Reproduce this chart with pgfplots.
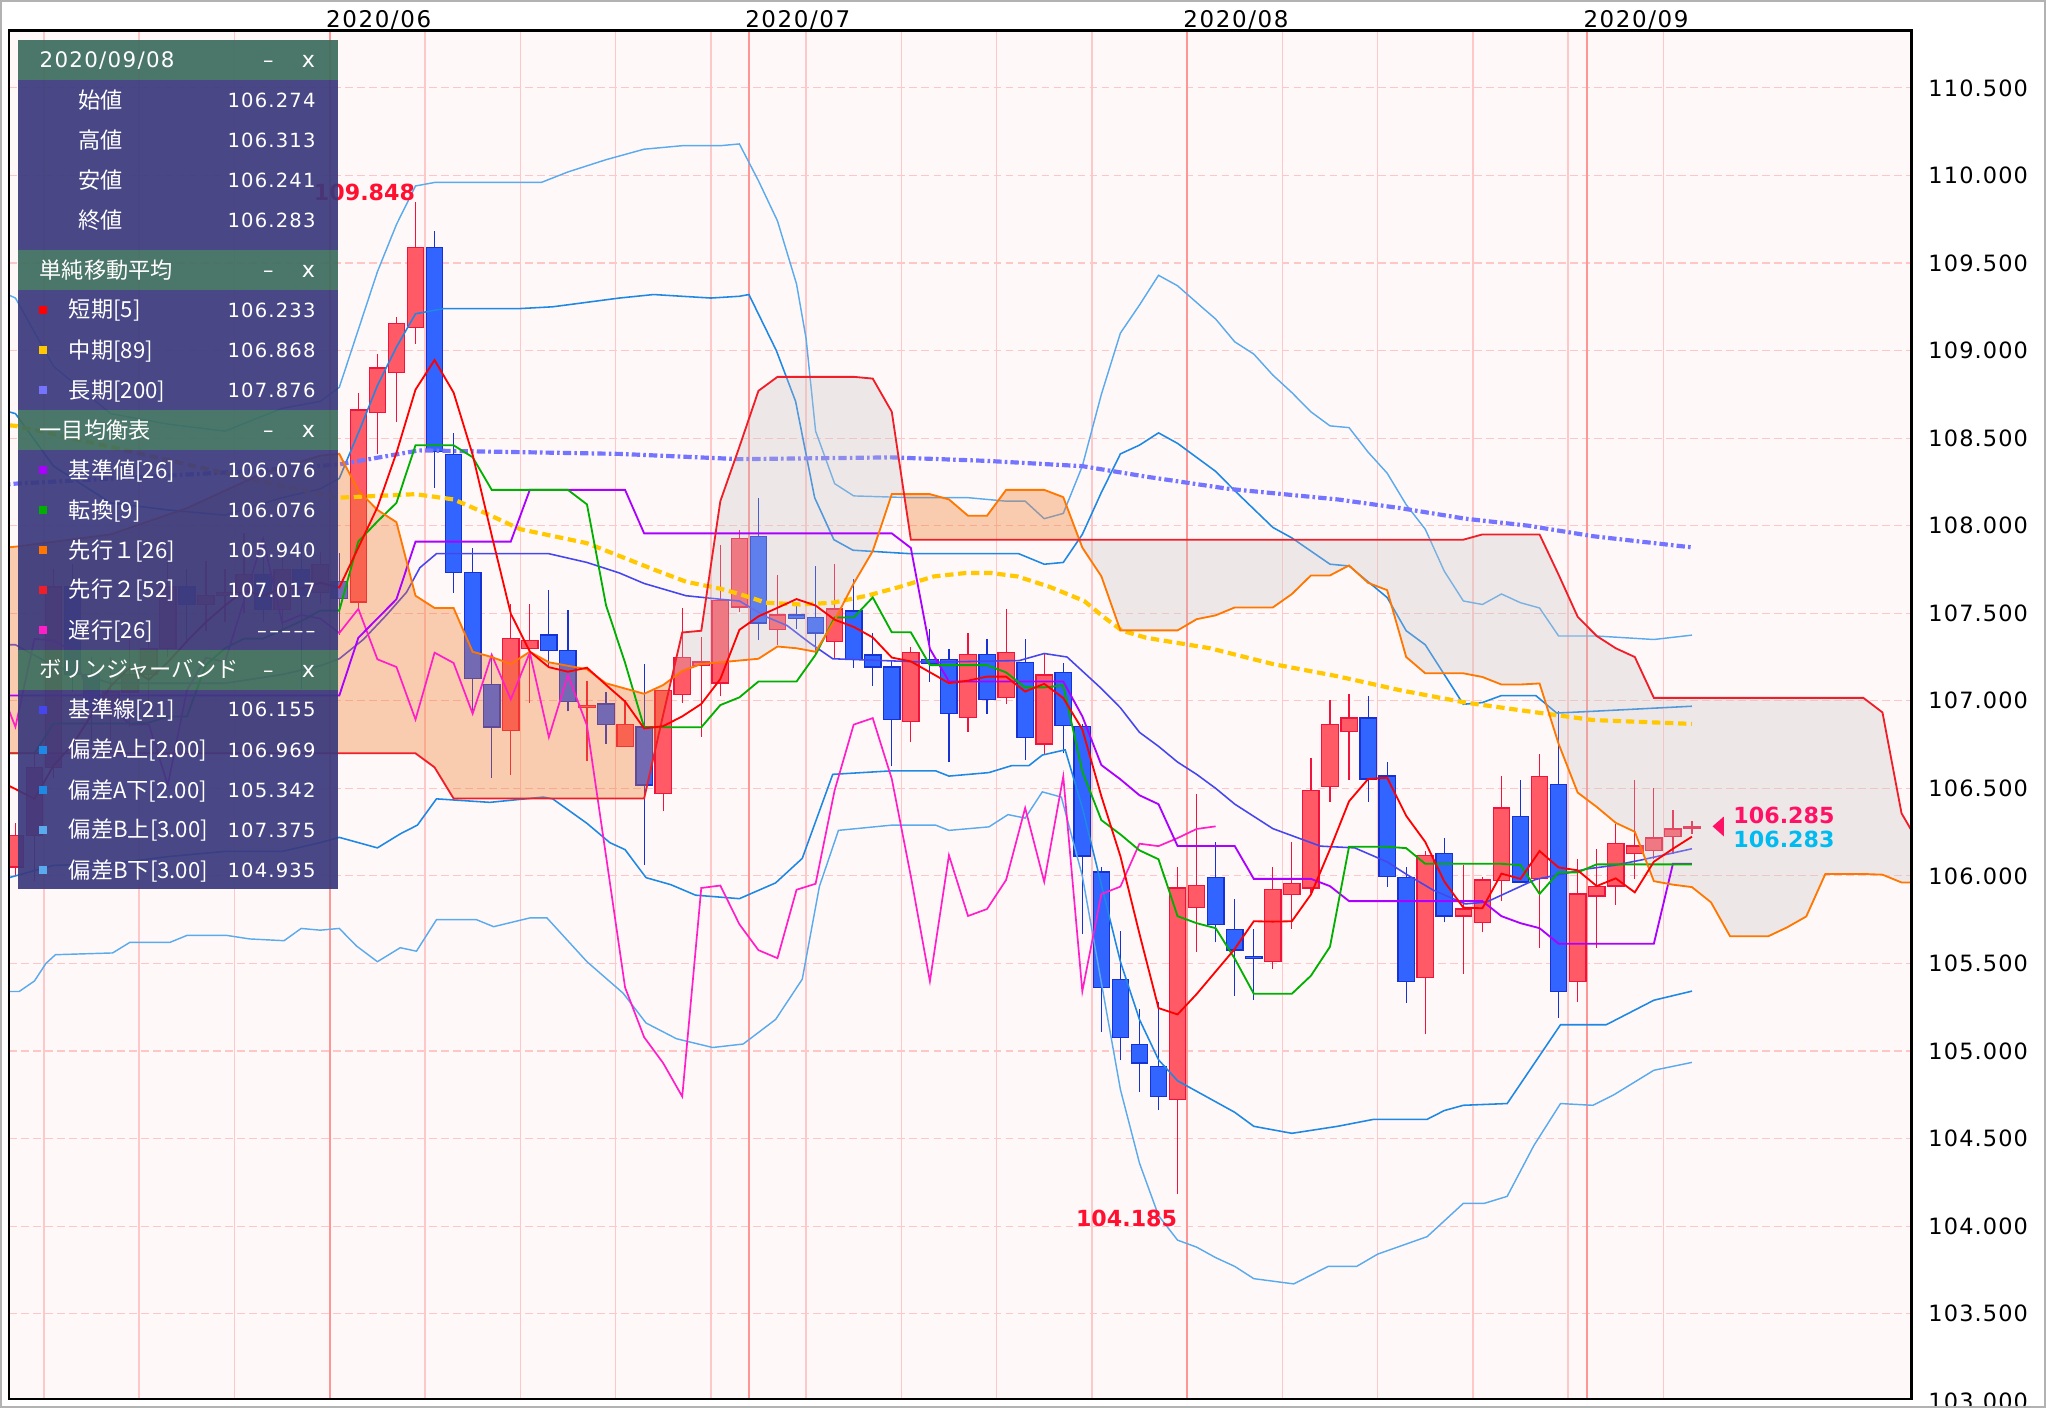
\documentclass[border=0pt]{standalone}
\usepackage{fontspec}
\usepackage{pgfplots}
\pgfplotsset{compat=1.18}
\usepackage{pgfplotstable}
\setmainfont{DejaVu Sans}
\newfontfamily\dv{DejaVu Sans}
\newfontfamily\cjk{Noto Sans CJK JP}
\newfontfamily\axf[LetterSpace=5]{DejaVu Sans}
\newfontfamily\axt[LetterSpace=7]{DejaVu Sans}
\newfontfamily\dtf[LetterSpace=6]{DejaVu Sans}

\definecolor{bgpink}{HTML}{FFF8F8}
\definecolor{gridpink}{HTML}{FFC6C6}
\definecolor{weekpink}{HTML}{FFC8C8}
\definecolor{monthpink}{HTML}{FF9696}
\definecolor{upfill}{HTML}{FF5A66}
\definecolor{updraw}{HTML}{F0143C}
\definecolor{dnfill}{HTML}{3264FF}
\definecolor{dndraw}{HTML}{1632D2}
\definecolor{csma5}{HTML}{FF0000}
\definecolor{csma89}{HTML}{FFC800}
\definecolor{csma200}{HTML}{7474FF}
\definecolor{ckijun}{HTML}{AA00FF}
\definecolor{ctenkan}{HTML}{00B000}
\definecolor{csenA}{HTML}{FF7700}
\definecolor{csenB}{HTML}{F01E28}
\definecolor{cchikou}{HTML}{FF1EC8}
\definecolor{bbmid}{HTML}{4646EE}
\definecolor{bbtwo}{HTML}{1E88E5}
\definecolor{bbthree}{HTML}{5AAAEE}
\definecolor{cloudor}{HTML}{F07828}
\definecolor{cloudgr}{HTML}{C8C3C3}
\definecolor{panelbody}{HTML}{3A397D}
\definecolor{panelhead}{HTML}{3C6D5E}
\definecolor{hired}{HTML}{FF1030}
\definecolor{hipink}{HTML}{FF1166}
\definecolor{hicyan}{HTML}{00BBF0}

\pgfplotsset{
  uwick/.style={draw=updraw, line width=0.45pt, mark=none},
  ubody/.style={draw=updraw, fill=upfill, line width=0.5pt, mark=none},
  dwick/.style={draw=dndraw, line width=0.45pt, mark=none},
  dbody/.style={draw=dndraw, fill=dnfill, line width=0.5pt, mark=none},
}
\newcommand\candle[6]{%
  \pgfmathsetmacro\cxl{#1-0.43}\pgfmathsetmacro\cxr{#1+0.43}%
  \addplot[#6wick] coordinates {(#1,#4) (#1,#3)};
  \addplot[#6body] coordinates {(\cxl,#2) (\cxr,#2) (\cxr,#5) (\cxl,#5)} -- cycle;
}

% ---------------- data ----------------
\pgfplotstableread{
k v
-18 106.55
-17 106.496
-16 106.44
-15 106.63
-14 106.75
-13 106.92
-12 107.084
-11 107.19
-10 107.12
-9 107.22
-8 107.34
-7 107.45
-6 107.544
-5 107.628
-4 107.602
-3 107.642
-2 107.642
-1 107.674
0 107.647
1 107.875
2 108.105
3 108.416
4 108.777
5 108.946
6 108.760
7 108.405
8 107.945
9 107.498
10 107.281
11 107.192
12 107.166
13 107.189
14 107.091
15 106.996
16 106.842
17 106.855
18 106.911
19 106.982
20 107.124
21 107.405
22 107.482
23 107.531
24 107.581
25 107.544
26 107.463
27 107.422
28 107.362
29 107.247
30 107.225
31 107.163
32 107.101
33 107.115
34 107.138
35 107.138
36 107.053
37 107.097
38 107.016
39 106.837
40 106.455
41 106.112
42 105.669
43 105.245
44 105.209
45 105.325
46 105.454
47 105.583
48 105.741
49 105.739
50 105.741
51 105.894
52 106.152
53 106.426
54 106.553
55 106.561
56 106.343
57 106.194
58 105.968
59 105.819
60 105.815
61 106.013
62 105.983
63 106.142
64 106.048
65 106.032
66 105.942
67 105.986
68 105.906
69 106.081
70 106.155
71 106.224
}\tsmafive

\pgfplotstableread{
k v
-18 108.58
-17 108.57
-12 108.45
-8 108.35
-4 108.25
0 108.16
4 108.18
6 108.15
7.7 108.07
9.5 107.98
13 107.90
16.5 107.75
18.2 107.68
20 107.64
21 107.61
22.4 107.56
24.2 107.55
25.9 107.56
27.7 107.60
29.4 107.65
31.2 107.71
32.9 107.73
34.2 107.73
35.6 107.71
37.3 107.65
39.1 107.57
40.1 107.48
41.1 107.40
42.35 107.36
45.7 107.30
49 107.21
52.4 107.14
55.7 107.06
59.1 106.99
62.4 106.94
65.8 106.89
71 106.868
}\tsmaeightynine

\pgfplotstableread{
k v
-18 108.23
-17 108.24
-10 108.28
-5 108.31
0 108.35
4.2 108.43
14.7 108.41
21 108.38
29 108.39
34 108.37
39 108.34
42.35 108.28
46.7 108.21
52.4 108.15
55.7 108.10
59.1 108.04
62.4 108.00
65.8 107.94
71 107.876
}\tsmatwohundred

\pgfplotstableread{
k v
-18 106.7
-17 106.7
-16 106.7
-15 106.87
-11 106.87
-10 106.875
-9 106.91
-8 106.91
-7 107.205
-6 107.30
-5 107.355
-4 107.355
-3 107.405
-2 107.455
-1 107.515
0 107.515
1 107.91
2 108.024
3 108.13
4 108.459
5 108.459
6 108.459
7 108.391
8 108.2045
12 108.2045
13 108.1215
14 107.5455
15 107.217
16 106.8485
19 106.8485
20 106.9755
21 107.0195
22 107.11
24 107.11
25 107.263
26 107.476
27 107.476
28 107.5905
29 107.391
30 107.391
31 107.2035
34 107.2035
35 107.162
36 107.0765
37 107.0765
38 107.088
39 106.597
40 106.3185
41 106.237
42 106.146
43 106.095
44 105.77
45 105.73
46 105.7015
47 105.5275
48 105.327
50 105.327
51 105.43
52 105.5955
53 106.1665
55 106.1665
56 106.1585
57 106.069
61 106.069
62 106.0615
63 105.897
64 106.02
65 106.02
66 106.066
71 106.066
}\ttenkan

\pgfplotstableread{
k v
-18 107.03
0 107.03
1 107.36
2 107.47
3 107.58
4 107.909
9 107.909
10 108.2045
15 108.2045
16 107.956
29 107.956
30 107.873
31 107.297
32 107.11
38 107.11
39 106.9115
40 106.633
41 106.5515
42 106.4605
43 106.4095
44 106.1705
47 106.1705
48 105.983
51 105.983
52 105.9415
53 105.856
60 105.856
61 105.77
62 105.73
63 105.7015
64 105.613
69 105.613
70 106.069
71 106.069
}\tkijun

\pgfplotstableread{
k v
-18 107.127
-17 106.851
-16 107.354
-15 107.343
-14 107.287
-13 106.994
-12 106.975
-11 106.865
-10 106.865
-9 106.519
-8 107.059
-7 107.246
-6 107.222
-5 107.574
-4 107.926
-3 107.445
-2 107.490
-1 107.470
0 107.387
1 107.525
2 107.237
3 107.193
4 106.893
5 107.275
6 107.216
7 106.926
8 107.263
9 107.008
10 107.275
11 106.792
12 107.147
13 106.859
14 106.114
15 105.363
16 105.079
17 104.931
18 104.740
19 105.931
20 105.945
21 105.724
22 105.576
23 105.530
24 105.921
25 105.955
26 106.489
27 106.864
28 106.901
29 106.554
30 105.998
31 105.398
32 106.118
33 105.771
34 105.811
35 105.977
36 106.388
37 105.966
38 106.568
39 105.341
40 105.896
41 105.939
42 106.184
43 106.170
44 106.216
45 106.268
46 106.283
}\tchikou

\pgfplotstableread{
k v
-18 107.87
-17 107.88
-12 107.95
-8 108.10
-4 108.30
-1 108.40
0 108.41
1 108.20
2 108.09
3 108.02
4 107.60
5 107.53
6 107.53
7 107.28
8 107.25
9 107.21
10 107.28
11 107.22
12 107.20
13 107.18
14 107.10
15 107.07
16 107.04
17 107.09
18 107.17
19 107.21
20 107.22
21 107.23
22 107.24
23 107.31
24 107.30
25 107.28
26 107.46
27 107.67
28 107.855
29 108.18
30 108.18
31 108.18
32 108.15
33 108.057
34 108.057
35 108.2045
36 108.2045
37 108.2045
38 108.163
39 107.875
40 107.711
41 107.402
42 107.402
43 107.402
44 107.402
45 107.466
46 107.488
47 107.533
48 107.533
49 107.533
50 107.6095
51 107.716
52 107.716
53 107.773
54 107.6735
55 107.632
56 107.250
57 107.157
58 107.157
59 107.157
60 107.136
61 107.093
62 107.093
63 107.099
64 106.754
65 106.476
66 106.394
67 106.303
68 106.252
69 105.970
70 105.950
71 105.936
72 105.849
73 105.655
74 105.655
75 105.655
76 105.7065
77 105.7685
78 106.011
79 106.011
80 106.011
81 106.007
82 105.9625
83 105.9625
}\tsa

\pgfplotstableread{
k v
-18 106.70
4 106.70
5 106.62
6 106.442
16 106.442
17 106.92
18 107.39
19 107.40
20 108.14
21 108.45
22 108.77
23 108.85
27 108.85
28 108.84
29 108.65
30 107.92
59 107.92
60 107.95
63 107.95
64 107.72
65 107.48
66 107.37
67 107.30
68 107.25
69 107.0165
80 107.0165
81 106.9335
82 106.3575
83 106.1705
}\tsb

\pgfplotstableread{
k v
-18 107.32
-17 107.32
-15 107.20
-12 107.10
-9 107.10
-6 107.10
-3 107.15
-1 107.20
0 107.24
1.26 107.35
2.48 107.49
3.53 107.62
4.23 107.76
5.1 107.84
11 107.84
13 107.79
14.7 107.73
16 107.67
18.2 107.60
20 107.58
21 107.57
22.4 107.48
23.5 107.43
24.7 107.33
25.9 107.24
31 107.22
35.7 107.23
37 107.27
38.2 107.25
39 107.17
40 107.07
41 106.96
42 106.82
43 106.74
44 106.65
45 106.58
46 106.50
47 106.41
48 106.34
49 106.27
51.5 106.17
53.3 106.16
55 106.08
56 106.01
57.4 105.92
59.1 105.84
60.2 105.85
61.4 105.91
62.8 105.98
65.5 106.04
66.9 106.06
68.3 106.09
71 106.155
}\tmid

\pgfplotstableread{
k v
-18 108.67
-17 108.64
-15 108.34
-12 108.13
-9 108.09
-6 108.06
-3 108.16
-1 108.21
0 108.27
1 108.53
2 108.80
3 109.02
4 109.21
5.5 109.24
9.5 109.24
11.2 109.25
14.7 109.30
16.5 109.32
19.5 109.30
21 109.31
21.5 109.32
22.94 109.00
23.95 108.71
24.95 108.16
25.96 107.92
26.96 107.86
29.97 107.84
35.66 107.84
37 107.78
38 107.79
39 107.95
40 108.19
41 108.41
42 108.46
43 108.53
44 108.47
46 108.31
47 108.20
49 107.99
50 107.93
52 107.78
53 107.77
55 107.59
56 107.40
57 107.32
59 106.98
60 106.99
61 107.03
62.8 107.03
63.9 106.93
65.8 106.94
71 106.969
}\tptwo

\pgfplotstableread{
k v
-18 109.35
-17 109.30
-15 108.91
-12 108.64
-9 108.58
-6 108.54
-3 108.67
-1 108.71
0 108.79
1 109.12
2 109.45
3 109.72
4 109.94
5 109.96
8 109.96
10.6 109.96
12 110.02
14 110.09
16 110.15
18 110.17
20 110.17
21 110.18
22 109.97
23 109.74
24 109.38
24.5 109.07
25 108.54
26 108.24
27 108.17
30 108.16
33 108.16
35 108.14
36 108.14
37 108.04
38 108.07
39 108.34
40 108.75
41 109.10
42 109.26
43 109.43
44 109.37
45.36 109.24
46 109.18
47 109.05
48 108.98
49 108.86
50 108.76
51 108.65
52 108.57
53 108.56
54 108.42
55 108.30
56 108.12
57 107.98
58 107.74
59 107.57
60 107.55
61 107.61
62 107.56
63 107.53
64 107.37
66 107.37
69 107.35
71 107.375
}\tpthree

\pgfplotstableread{
k v
-18 105.97
-17 106.00
-15 106.06
-12 106.07
-9 106.11
-6 106.14
-3 106.14
-1 106.19
0 106.22
2 106.16
3.2 106.24
4.1 106.29
5.1 106.44
7.9 106.42
10.7 106.45
11.2 106.44
13 106.30
14.2 106.19
15 106.15
16.1 105.99
17.4 105.95
18.7 105.89
21 105.87
22.9 105.96
24.3 106.10
25.9 106.58
29 106.60
31.3 106.60
32 106.57
34.1 106.59
35.3 106.63
36.2 106.63
36.9 106.69
38.1 106.72
39 106.39
40 105.95
41 105.51
42 105.18
43 104.95
44 104.83
45 104.77
46 104.71
47 104.65
48 104.57
50 104.53
52.4 104.57
54.3 104.61
57.1 104.61
58 104.66
59 104.69
61.3 104.70
64.1 105.15
66.5 105.15
69 105.29
71 105.342
}\tmtwo

\pgfplotstableread{
k v
-18 105.30
-17.3 105.34
-16.8 105.34
-16 105.40
-15.4 105.50
-14.9 105.55
-11.9 105.56
-11 105.62
-8.9 105.62
-8 105.66
-5.9 105.66
-4.7 105.64
-2.9 105.63
-2 105.70
-1 105.69
0 105.70
0.9 105.60
2 105.51
3.2 105.59
4.05 105.57
5.1 105.75
7.2 105.75
8.1 105.71
10 105.76
10.9 105.76
13 105.51
14.9 105.33
16.1 105.16
17.7 105.07
19.6 105.02
21.2 105.04
22.9 105.18
24.3 105.41
25.2 105.94
26.2 106.26
29 106.29
31.3 106.29
32 106.26
34.1 106.28
35.1 106.35
36 106.33
36.9 106.48
37.9 106.45
39 106.00
40 105.39
41 104.78
42 104.36
43 104.06
44 103.92
45 103.88
46 103.82
47 103.77
48 103.70
50.1 103.67
51.9 103.77
53.4 103.77
54.5 103.84
57.1 103.94
59 104.13
60.1 104.13
61.3 104.17
62.7 104.46
64.1 104.70
65.8 104.69
66.9 104.75
69 104.89
71 104.935
}\tmthree

% panel helpers
\newcommand\prow[3]{%
  \node[anchor=base west,inner sep=0,text=white,font=\cjk\fontsize{8.5}{10}\selectfont] at (30pt,#1pt-3.1pt) {#2};
  \node[anchor=base east,inner sep=0,text=white,font=\dtf\fontsize{7.5}{9}\selectfont] at (121.1pt,#1pt-2.75pt) {#3};}
\newcommand\irow[4]{%
  \fill[#2] (15pt,#1pt-1.6pt) rectangle (18.2pt,#1pt+1.6pt);
  \node[anchor=base west,inner sep=0,text=white,font=\cjk\fontsize{8.5}{10}\selectfont] at (26.2pt,#1pt-3.1pt) {#3};
  \node[anchor=base east,inner sep=0,text=white,font=\dtf\fontsize{7.5}{9}\selectfont] at (121.1pt,#1pt-2.75pt) {#4};}
\newcommand\pheadctl[1]{%
  \node[anchor=base,inner sep=0,text=white,font=\dv\fontsize{8}{10}\selectfont] at (102.8pt,#1pt-3pt) {–};
  \node[anchor=base,inner sep=0,text=white,font=\dv\fontsize{8.5}{10}\selectfont] at (118.15pt,#1pt-3pt) {x};}
\newcommand\phead[2]{%
  \node[anchor=base west,inner sep=0,text=white,font=\cjk\fontsize{8.5}{10}\selectfont] at (15pt,#1pt-3.1pt) {#2};
  \pheadctl{#1}}

\begin{document}
\begin{tikzpicture}
\useasboundingbox (0,0) rectangle (784pt,539.5pt);
\fill[white] (0,0) rectangle (784pt,539.5pt);
\begin{axis}[
  at={(3.5pt,3.5pt)}, anchor=south west,
  scale only axis, width=729pt, height=524.25pt,
  xmin=-17.33, xmax=82.53, ymin=103.014, ymax=110.827,
  axis background/.style={fill=bgpink},
  axis line style={black, line width=0.9pt},
  major tick length=0pt,
  ytick={103.5,104.0,104.5,105.0,105.5,106.0,106.5,107.0,107.5,108.0,108.5,109.0,109.5,110.0,110.5},
  yticklabels={103.500,104.000,104.500,105.000,105.500,106.000,106.500,107.000,107.500,108.000,108.500,109.000,109.500,110.000,110.500},
  yticklabel pos=right,
  yticklabel style={anchor=west, inner sep=0pt, xshift=6.25pt, font=\axf\fontsize{8.6}{10}\selectfont, text=black},
  xtick={-0.5,21.5,44.5,65.5},
  xticklabels={2020/06,2020/07,2020/08,2020/09},
  xticklabel pos=upper,
  xticklabel style={anchor=base west, inner sep=0pt, xshift=-1.6pt, yshift=1.1pt, font=\axt\fontsize{8.8}{10}\selectfont, text=black},
  ymajorgrids=true,
  major grid style={draw=gridpink, line width=0.45pt, dash pattern=on 3pt off 1.6pt},
]
% vertical week / month lines
\addplot[draw=weekpink, line width=0.6pt, mark=none, unbounded coords=jump] coordinates {
(-15.5,102) (-15.5,112) (-15.5,nan) (-10.5,102) (-10.5,112) (-10.5,nan)
(-5.5,102) (-5.5,112) (-5.5,nan) (4.5,102) (4.5,112) (4.5,nan)
(9.5,102) (9.5,112) (9.5,nan) (14.5,102) (14.5,112) (14.5,nan)
(19.5,102) (19.5,112) (19.5,nan) (24.5,102) (24.5,112) (24.5,nan)
(29.5,102) (29.5,112) (29.5,nan) (34.5,102) (34.5,112) (34.5,nan)
(39.5,102) (39.5,112) (39.5,nan) (49.5,102) (49.5,112) (49.5,nan)
(54.5,102) (54.5,112) (54.5,nan) (59.5,102) (59.5,112) (59.5,nan)
(64.5,102) (64.5,112) (64.5,nan) (69.5,102) (69.5,112)};
\addplot[draw=monthpink, line width=0.6pt, mark=none, unbounded coords=jump] coordinates {
(-0.5,102) (-0.5,112) (-0.5,nan) (21.5,102) (21.5,112) (21.5,nan)
(44.5,102) (44.5,112) (44.5,nan) (65.5,102) (65.5,112)};

% candles: k, O, H, L, C
\candle{-18}{106.45}{106.60}{105.98}{106.10}{d}
\candle{-17}{106.05}{106.30}{106.00}{106.23}{u}
\candle{-16}{106.23}{106.70}{105.97}{106.62}{u}
\candle{-15}{106.62}{107.75}{106.56}{107.65}{u}
\candle{-14}{107.65}{107.78}{107.05}{107.15}{d}
\candle{-13}{107.15}{107.25}{106.75}{106.95}{d}
\candle{-12}{106.95}{107.25}{106.75}{107.05}{u}
\candle{-11}{107.05}{107.40}{106.85}{107.15}{u}
\candle{-10}{107.15}{107.45}{106.95}{107.30}{u}
\candle{-9}{107.30}{107.85}{107.25}{107.65}{u}
\candle{-8}{107.65}{107.75}{107.35}{107.55}{d}
\candle{-7}{107.55}{107.80}{107.40}{107.60}{u}
\candle{-6}{107.60}{107.75}{107.45}{107.62}{u}
\candle{-5}{107.62}{107.96}{107.50}{107.72}{u}
\candle{-4}{107.72}{107.90}{107.45}{107.52}{d}
\candle{-3}{107.52}{107.90}{107.40}{107.75}{u}
\candle{-2}{107.75}{107.90}{107.07}{107.60}{d}
\candle{-1}{107.62}{107.85}{107.55}{107.78}{u}
\candle{0}{107.680}{107.845}{107.376}{107.583}{d}
\candle{1}{107.564}{108.757}{107.53}{108.660}{u}
\candle{2}{108.646}{108.978}{108.412}{108.901}{u}
\candle{3}{108.873}{109.193}{108.591}{109.155}{u}
\candle{4}{109.130}{109.848}{109.039}{109.588}{u}
\candle{5}{109.588}{109.682}{108.218}{108.425}{d}
\candle{6}{108.406}{108.530}{107.616}{107.732}{d}
\candle{7}{107.732}{107.873}{106.934}{107.127}{d}
\candle{8}{107.094}{107.265}{106.561}{106.851}{d}
\candle{9}{106.829}{107.555}{106.575}{107.354}{u}
\candle{10}{107.298}{107.555}{106.989}{107.343}{u}
\candle{11}{107.376}{107.633}{107.196}{107.287}{d}
\candle{12}{107.287}{107.519}{106.939}{106.994}{d}
\candle{13}{106.960}{107.113}{106.657}{106.975}{u}
\candle{14}{106.981}{107.050}{106.754}{106.865}{d}
\candle{15}{106.740}{107.003}{106.740}{106.865}{u}
\candle{16}{106.851}{107.210}{106.064}{106.519}{d}
\candle{17}{106.470}{107.060}{106.370}{107.059}{u}
\candle{18}{107.036}{107.528}{106.989}{107.246}{u}
\candle{19}{107.200}{107.362}{106.796}{107.222}{u}
\candle{20}{107.101}{107.887}{107.025}{107.574}{u}
\candle{21}{107.536}{107.975}{107.508}{107.926}{u}
\candle{22}{107.937}{108.156}{107.349}{107.445}{d}
\candle{23}{107.408}{107.721}{107.317}{107.490}{u}
\candle{24}{107.490}{107.546}{107.412}{107.470}{d}
\candle{25}{107.477}{107.769}{107.269}{107.387}{d}
\candle{26}{107.340}{107.781}{107.240}{107.525}{u}
\candle{27}{107.513}{107.698}{107.187}{107.237}{d}
\candle{28}{107.261}{107.389}{107.084}{107.193}{d}
\candle{29}{107.193}{107.231}{106.626}{106.893}{d}
\candle{30}{106.882}{107.307}{106.763}{107.275}{u}
\candle{31}{107.237}{107.412}{107.107}{107.216}{d}
\candle{32}{107.237}{107.298}{106.649}{106.926}{d}
\candle{33}{106.906}{107.389}{106.821}{107.263}{u}
\candle{34}{107.263}{107.355}{106.926}{107.008}{d}
\candle{35}{107.017}{107.527}{106.983}{107.275}{u}
\candle{36}{107.218}{107.355}{106.662}{106.792}{d}
\candle{37}{106.754}{107.275}{106.697}{107.147}{u}
\candle{38}{107.160}{107.218}{106.700}{106.859}{d}
\candle{39}{106.853}{106.870}{105.667}{106.114}{d}
\candle{40}{106.022}{106.053}{105.110}{105.363}{d}
\candle{41}{105.410}{105.688}{104.947}{105.079}{d}
\candle{42}{105.039}{105.241}{104.765}{104.931}{d}
\candle{43}{104.911}{105.282}{104.663}{104.740}{d}
\candle{44}{104.724}{106.053}{104.185}{105.931}{u}
\candle{45}{105.819}{106.469}{105.566}{105.945}{u}
\candle{46}{105.992}{106.195}{105.621}{105.724}{d}
\candle{47}{105.692}{105.866}{105.316}{105.576}{d}
\candle{48}{105.540}{105.698}{105.292}{105.530}{d}
\candle{49}{105.511}{106.049}{105.471}{105.921}{u}
\candle{50}{105.895}{106.195}{105.698}{105.955}{u}
\candle{51}{105.931}{106.675}{105.900}{106.489}{u}
\candle{52}{106.509}{107.006}{106.424}{106.864}{u}
\candle{53}{106.824}{107.041}{106.550}{106.901}{u}
\candle{54}{106.901}{107.026}{106.424}{106.554}{d}
\candle{55}{106.570}{106.651}{105.937}{105.998}{d}
\candle{56}{105.992}{106.049}{105.276}{105.398}{d}
\candle{57}{105.420}{106.144}{105.097}{106.118}{u}
\candle{58}{106.127}{106.218}{105.735}{105.771}{d}
\candle{59}{105.771}{106.061}{105.441}{105.811}{u}
\candle{60}{105.735}{105.991}{105.678}{105.977}{u}
\candle{61}{105.975}{106.568}{105.858}{106.388}{u}
\candle{62}{106.341}{106.549}{105.958}{105.966}{d}
\candle{63}{105.987}{106.697}{105.587}{106.568}{u}
\candle{64}{106.521}{106.943}{105.189}{105.341}{d}
\candle{65}{105.398}{106.095}{105.280}{105.896}{u}
\candle{66}{105.886}{106.152}{105.587}{105.939}{u}
\candle{67}{105.943}{106.294}{105.835}{106.184}{u}
\candle{68}{106.127}{106.549}{105.985}{106.170}{u}
\candle{69}{106.146}{106.502}{106.095}{106.216}{u}
\candle{70}{106.227}{106.379}{106.123}{106.268}{u}
\candle{71}{106.274}{106.313}{106.241}{106.283}{u}

% Bollinger bands and long SMA (under the cloud)
\addplot[draw=bbthree, line width=0.55pt, mark=none] table {\tpthree};
\addplot[draw=bbthree, line width=0.55pt, mark=none] table {\tmthree};
\addplot[draw=bbtwo, line width=0.6pt, mark=none] table {\tptwo};
\addplot[draw=bbtwo, line width=0.6pt, mark=none] table {\tmtwo};
\addplot[draw=bbmid, line width=0.6pt, mark=none] table {\tmid};
\addplot[draw=csma200, line width=1.6pt, mark=none, dash pattern=on 3.2pt off 1.2pt on 1pt off 1.2pt] table {\tsmatwohundred};

% Ichimoku cloud: regions between senkou A and senkou B, split at their crossings
\addplot[fill=cloudor, fill opacity=0.35, draw=none, mark=none] coordinates {
(-18,107.87) (-17,107.88) (-12,107.95) (-8,108.10) (-4,108.30) (-1,108.40) (0,108.41)
(1,108.20) (2,108.09) (3,108.02) (4,107.60) (5,107.53) (6,107.53) (7,107.28) (8,107.25)
(9,107.21) (10,107.28) (11,107.22) (12,107.20) (13,107.18) (14,107.10) (15,107.07)
(16,107.04) (17,107.09) (17.44,107.126)
(17,106.92) (16,106.442) (6,106.442) (5,106.62) (4,106.70) (-18,106.70)} -- cycle;
\addplot[fill=cloudgr, fill opacity=0.3, draw=none, mark=none] coordinates {
(17.44,107.126) (18,107.17) (19,107.21) (20,107.22) (21,107.23) (22,107.24) (23,107.31)
(24,107.30) (25,107.28) (26,107.46) (27,107.67) (28,107.855) (29,108.18) (29.644,108.18)
(29,108.65) (28,108.84) (27,108.85) (23,108.85) (22,108.77) (21,108.45) (20,108.14)
(19,107.40) (18,107.39)} -- cycle;
\addplot[fill=cloudor, fill opacity=0.35, draw=none, mark=none] coordinates {
(29.644,108.18) (30,108.18) (31,108.18) (32,108.15) (33,108.057) (34,108.057)
(35,108.2045) (36,108.2045) (37,108.2045) (38,108.163) (38.844,107.92)
(38,107.92) (30,107.92)} -- cycle;
\addplot[fill=cloudgr, fill opacity=0.3, draw=none, mark=none] coordinates {
(38.844,107.92) (39,107.875) (40,107.711) (41,107.402) (44,107.402) (45,107.466)
(46,107.488) (47,107.533) (49,107.533) (50,107.6095) (51,107.716) (52,107.716)
(53,107.773) (54,107.6735) (55,107.632) (56,107.250) (57,107.157) (59,107.157)
(60,107.136) (61,107.093) (62,107.093) (63,107.099) (64,106.754) (65,106.476)
(66,106.394) (67,106.303) (68,106.252) (69,105.970) (70,105.950) (71,105.936)
(72,105.849) (73,105.655) (75,105.655) (76,105.7065) (77,105.7685) (78,106.011)
(80,106.011) (81,106.007) (82,105.9625) (83,105.9625)
(83,106.1705) (82,106.3575) (81,106.9335) (80,107.0165) (69,107.0165) (68,107.25)
(67,107.30) (66,107.37) (65,107.48) (64,107.72) (63,107.95) (60,107.95) (59,107.92)} -- cycle;

% lines over the cloud
\addplot[draw=csma89, line width=1.6pt, mark=none, dash pattern=on 3.2pt off 1.8pt] table {\tsmaeightynine};
\addplot[draw=cchikou, line width=0.65pt, mark=none] table {\tchikou};
\addplot[draw=ckijun, line width=0.7pt, mark=none] table {\tkijun};
\addplot[draw=ctenkan, line width=0.7pt, mark=none] table {\ttenkan};
\addplot[draw=csenA, line width=0.7pt, mark=none] table {\tsa};
\addplot[draw=csenB, line width=0.7pt, mark=none] table {\tsb};
\addplot[draw=csma5, line width=0.7pt, mark=none] table {\tsmafive};

% last price marker
\addplot[fill=hipink, draw=none, mark=none] coordinates {(72.08,106.283) (72.67,106.339) (72.67,106.226)} -- cycle;

\node[anchor=east, inner sep=0pt, text=hired, font=\dv\bfseries\fontsize{8.5}{10}\selectfont] at (axis cs:4,109.903) {109.848};
\node[anchor=east, inner sep=0pt, text=hired, font=\dv\bfseries\fontsize{8.5}{10}\selectfont] at (axis cs:44,104.046) {104.185};
\node[anchor=west, inner sep=0pt, text=hipink, font=\dv\bfseries\fontsize{8.5}{10}\selectfont] at (axis cs:73.15,106.347) {106.285};
\node[anchor=west, inner sep=0pt, text=hicyan, font=\dv\bfseries\fontsize{8.5}{10}\selectfont] at (axis cs:73.15,106.211) {106.283};
\end{axis}

% cut-off bottom label
\node[anchor=west, inner sep=0pt, font=\axf\fontsize{8.6}{10}\selectfont] at (738.75pt,2.55pt) {103.000};

% frame and outer border
\draw[black, line width=0.9pt] (3.5pt,3.5pt) rectangle (732.5pt,527.75pt);
\draw[black!30, line width=0.9pt] (0.45pt,0.45pt) rectangle (783.55pt,539.05pt);

% info panel
\fill[panelhead, opacity=0.92] (6.9pt,508.85pt) rectangle (129.4pt,524.15pt);
\fill[panelbody, opacity=0.92] (6.9pt,443.7pt) rectangle (129.4pt,508.85pt);
\fill[panelhead, opacity=0.92] (6.9pt,428.4pt) rectangle (129.4pt,443.7pt);
\fill[panelbody, opacity=0.92] (6.9pt,382.4pt) rectangle (129.4pt,428.4pt);
\fill[panelhead, opacity=0.92] (6.9pt,367.1pt) rectangle (129.4pt,382.4pt);
\fill[panelbody, opacity=0.92] (6.9pt,290.5pt) rectangle (129.4pt,367.1pt);
\fill[panelhead, opacity=0.92] (6.9pt,275.15pt) rectangle (129.4pt,290.5pt);
\fill[panelbody, opacity=0.92] (6.9pt,198.75pt) rectangle (129.4pt,275.15pt);

\node[anchor=base west,inner sep=0,text=white,font=\dtf\fontsize{8.2}{10}\selectfont] at (15pt,513.5pt) {2020/09/08};
\pheadctl{516.5}
\prow{501.2}{始値}{106.274}
\prow{485.85}{高値}{106.313}
\prow{470.55}{安値}{106.241}
\prow{455.2}{終値}{106.283}

\phead{436.05}{単純移動平均}
\irow{420.75}{csma5}{短期[5]}{106.233}
\irow{405.4}{csma89}{中期[89]}{106.868}
\irow{390.05}{csma200}{長期[200]}{107.876}

\phead{374.75}{一目均衡表}
\irow{359.4}{ckijun}{基準値[26]}{106.076}
\irow{344.1}{ctenkan}{転換[9]}{106.076}
\irow{328.75}{csenA}{先行１[26]}{105.940}
\irow{313.45}{csenB}{先行２[52]}{107.017}
\irow{298.1}{cchikou}{遅行[26]}{–\kern0.9pt–\kern0.9pt–\kern0.9pt–\kern0.9pt–}

\phead{282.8}{ボリンジャーバンド}
\irow{267.5}{bbmid}{基準線[21]}{106.155}
\irow{252.15}{bbtwo}{偏差A上[2.00]}{106.969}
\irow{236.8}{bbtwo}{偏差A下[2.00]}{105.342}
\irow{221.5}{bbthree}{偏差B上[3.00]}{107.375}
\irow{206.15}{bbthree}{偏差B下[3.00]}{104.935}
\end{tikzpicture}
\end{document}
